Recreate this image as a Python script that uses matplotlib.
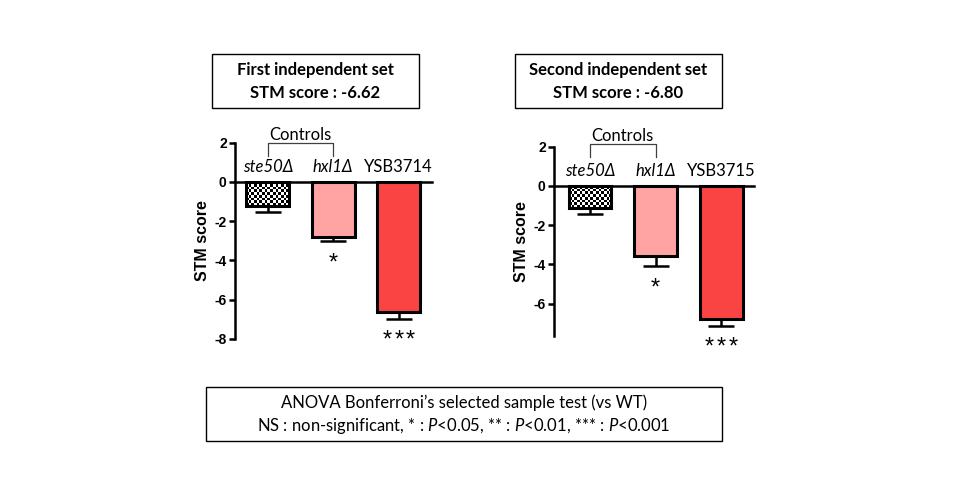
import numpy as np
import matplotlib
matplotlib.use("Agg")
import matplotlib.pyplot as plt
from matplotlib.patches import Rectangle

# values (STM score, mean and lower SEM)
set1_labels = ["ste50Δ", "hxl1Δ", "YSB3714"]
set1_means = [-1.23, -2.79, -6.62]
set1_err = [0.32, 0.24, 0.36]
set1_stars = [0, 1, 3]

set2_labels = ["ste50Δ", "hxl1Δ", "YSB3715"]
set2_means = [-1.10, -3.59, -6.80]
set2_err = [0.31, 0.51, 0.33]
set2_stars = [0, 1, 3]

set1_title = ["First independent set", "STM score : -6.62"]
set2_title = ["Second independent set", "STM score : -6.80"]
note_lines = ["ANOVA Bonferroni\u2019s selected sample test (vs WT)",
              "NS : non-significant, * : $\\mathit{P}$<0.05, ** : $\\mathit{P}$<0.01, *** : $\\mathit{P}$<0.001"]

bar_colors = ["none", "#ffa3a3", "#fa4444"]
italic_label = [True, True, False]

plt.rcParams["mathtext.fontset"] = "custom"
plt.rcParams["mathtext.it"] = "Lato:italic"
plt.rcParams["mathtext.rm"] = "Lato"
plt.rcParams["axes.unicode_minus"] = False

TXT = ["Lato", "DejaVu Sans"]
AX = "Liberation Sans"


def checker_fill(ax, bar, cell=2.6):
    # fine black/white checkerboard like the GraphPad pattern, clipped to the bar
    x0, y0 = bar.get_x(), bar.get_y()
    w, h = bar.get_width(), bar.get_height()
    (px0, py0), (px1, py1) = ax.transData.transform([(x0, y0), (x0 + w, y0 + h)])
    nx = max(1, int(abs(px1 - px0) / cell))
    ny = max(1, int(abs(py1 - py0) / cell))
    board = (np.add.outer(np.arange(ny), np.arange(nx)) % 2).astype(float)
    im = ax.imshow(board, cmap="gray", extent=(x0, x0 + w, y0 + h, y0),
                   interpolation="nearest", aspect="auto", zorder=1.9)
    im.set_clip_path(bar)


def draw_panel(ax, labels, means, err, stars, ylim, yticks, ctrl_y):
    x = list(range(len(means)))
    ax.set_xlim(-0.5, 2.5)
    ax.set_ylim(*ylim)
    bars = ax.bar(x, means, width=0.65, color=bar_colors, edgecolor="black",
                  linewidth=2.2, zorder=2)
    ax.errorbar(x, means, yerr=[err, [0] * len(err)], fmt="none", ecolor="black",
                elinewidth=1.8, capsize=9.5, capthick=1.8, zorder=1)

    ax.set_yticks(yticks)
    ax.set_xticks(x)
    ax.spines["top"].set_visible(False)
    ax.spines["right"].set_visible(False)
    ax.spines["bottom"].set_position(("data", 0))
    ax.spines["left"].set_linewidth(1.8)
    ax.spines["bottom"].set_linewidth(1.8)
    ax.tick_params(axis="y", direction="out", length=4, width=1.8, pad=2)
    ax.tick_params(axis="x", direction="out", length=2, width=1.2, labelbottom=False)
    for t in ax.get_yticklabels():
        t.set_fontfamily(AX)
        t.set_fontweight("bold")
        t.set_fontsize(10)
    ax.set_ylabel("STM score", fontfamily=AX, fontweight="bold", fontsize=11.5, labelpad=3)

    for xi, lab, it in zip(x, labels, italic_label):
        ax.text(xi, 0.76, lab, ha="center", va="center", fontsize=12,
                family=TXT, style="italic" if it else "normal")
    for xi, m, e, n in zip(x, means, err, stars):
        for k in range(n):
            ax.text(xi + (k - (n - 1) / 2) * 0.18, m - e - 1.42, "*", ha="center",
                    va="baseline", fontsize=17, family=AX, clip_on=False)

    # "Controls" bracket over the two control strains
    ax.plot([0, 0, 1, 1], [ctrl_y - 0.68, ctrl_y, ctrl_y, ctrl_y - 0.68],
            color="#404040", lw=0.9, clip_on=False)
    ax.text(0.5, ctrl_y + 0.4, "Controls", ha="center", va="center",
            fontsize=12, family=TXT)
    return bars


def text_box(fig, x0, y0, x1, y1, lines, ys, **kw):
    W, H = 960, 500
    fig.patches.append(Rectangle((x0 / W, 1 - y1 / H), (x1 - x0) / W, (y1 - y0) / H,
                                 transform=fig.transFigure, fill=False,
                                 edgecolor="black", lw=1.0))
    for line, yy in zip(lines, ys):
        fig.text((x0 + x1) / 2 / W, 1 - yy / H, line, ha="center", va="center",
                 family=TXT, **kw)


fig = plt.figure(figsize=(9.6, 5.0), dpi=100)

ax1 = fig.add_axes([235 / 960, 1 - 339 / 500, 196.5 / 960, 196.3 / 500])
bars1 = draw_panel(ax1, set1_labels, set1_means, set1_err, set1_stars,
                   (-8, 2), [2, 0, -2, -4, -6, -8], 2.0)

ax2 = fig.add_axes([554 / 960, 1 - 336 / 500, 200 / 960, 189.3 / 500])
bars2 = draw_panel(ax2, set2_labels, set2_means, set2_err, set2_stars,
                   (-7.65, 2), [2, 0, -2, -4, -6], 2.16)
ax2.set_xlim(-0.55, 2.5)

checker_fill(ax1, bars1[0])
checker_fill(ax2, bars2[0])

text_box(fig, 211.7, 54.3, 419, 108.3, set1_title, [70, 93.3], fontsize=12, fontweight="bold")
text_box(fig, 515, 54.3, 721.7, 108.3, set2_title, [70, 93.3], fontsize=12, fontweight="bold")
text_box(fig, 206, 386.7, 721.7, 441, note_lines, [402.3, 425.7], fontsize=12)

fig.savefig("out.png", dpi=100)
